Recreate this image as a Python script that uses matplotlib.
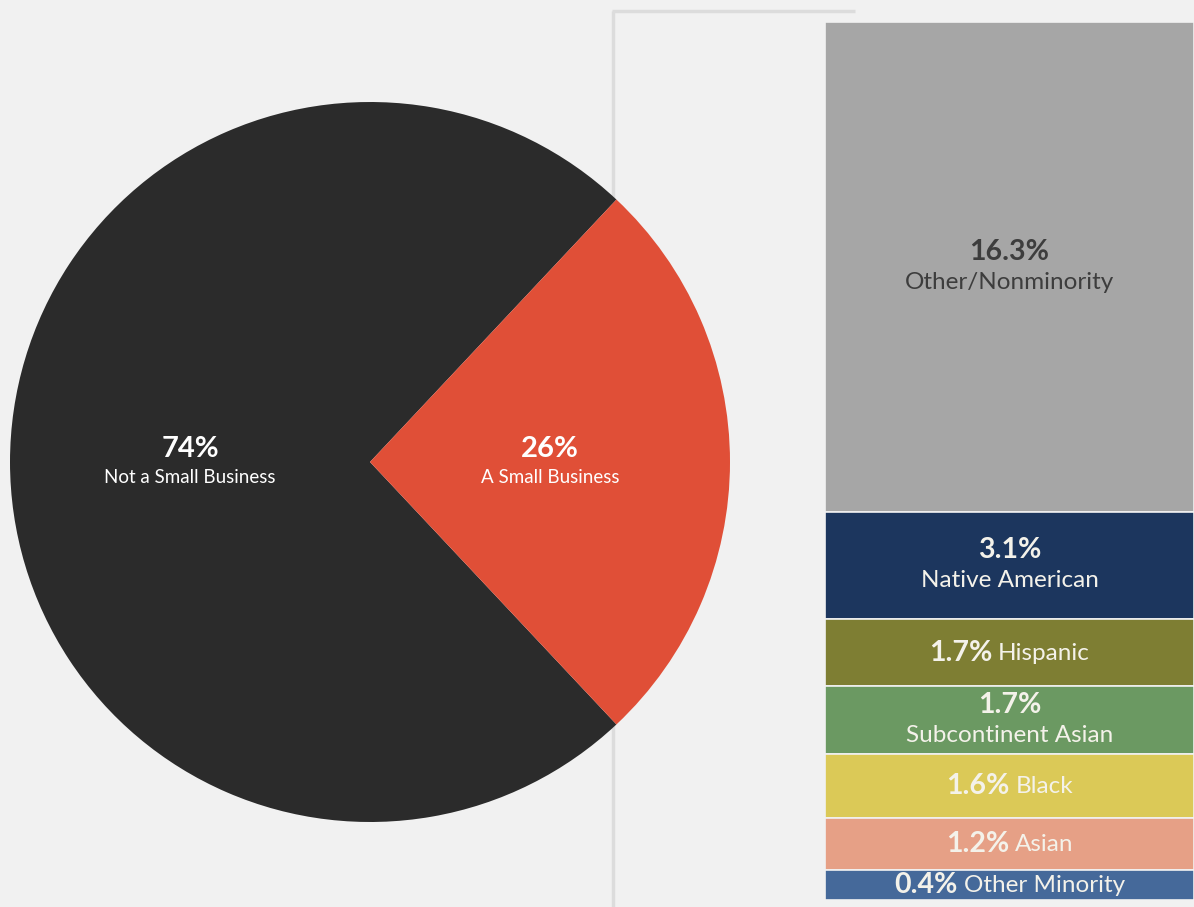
import numpy as np
import matplotlib.pyplot as plt
from matplotlib.lines import Line2D

plt.rcParams['font.family'] = ['Lato', 'DejaVu Sans']

# pie: share of contract dollars
pie_labels = ["Not a Small Business", "A Small Business"]
pie_values = [74, 26]
pie_colors = ["#2b2b2b", "#e04f37"]

# breakdown of the small business share
groups = ["Other/Nonminority", "Native American", "Hispanic",
          "Subcontinent Asian", "Black", "Asian", "Other Minority"]
shares = [16.3, 3.1, 1.7, 1.7, 1.6, 1.2, 0.4]
group_colors = ["#a6a6a6", "#1c365e", "#7e7e33", "#6b9962",
                "#dbc957", "#e6a086", "#45699a"]
two_line = [True, True, False, True, False, False, False]

bg = "#f1f1f1"
W, H = 1194, 907
fig = plt.figure(figsize=(W / 100, H / 100), dpi=100, facecolor=bg)

# thin bracket line behind the pie
guide = dict(color="#dcdcdc", lw=2.5, zorder=-1, solid_capstyle="butt")
fig.add_artist(Line2D([613 / W, 613 / W], [0, 1 - 11 / H], **guide))
fig.add_artist(Line2D([612 / W, 855 / W], [1 - 11 / H, 1 - 11 / H], **guide))

# ---- pie
ax = fig.add_axes([10 / W, (H - 822) / H, 720 / W, 720 / H])
wedges, _ = ax.pie(pie_values, colors=pie_colors, startangle=pie_values[1] / 100 * 180,
                   radius=1, wedgeprops=dict(linewidth=0))
ax.set_xlim(-1, 1)
ax.set_ylim(-1, 1)
ax.set_aspect("equal")
ax.axis("off")
for w, val, lab in zip(wedges, pie_values, pie_labels):
    ang = np.deg2rad((w.theta1 + w.theta2) / 2)
    x, y = 0.5 * np.cos(ang), 0.5 * np.sin(ang)
    ax.annotate(f"{val}%", (x, y), xytext=(0, 9.5), textcoords="offset points",
                ha="center", va="center", fontsize=21, fontweight="bold", color="white")
    ax.annotate(lab, (x, y), xytext=(0, -11.5), textcoords="offset points",
                ha="center", va="center", fontsize=13.5, color="white")

# ---- stacked bar (small groups given a floor so the labels fit)
shown = np.array(shares) + 0.62
bottoms = np.concatenate([[0], np.cumsum(shown)[:-1]])
bx = fig.add_axes([825 / W, (H - 900) / H, (W - 825) / W, 878 / H])
bx.bar(0.5, shown, bottom=bottoms, width=1, color=group_colors,
       edgecolor=bg, linewidth=1.2)
bx.set_xlim(0, 1)
bx.set_ylim(shown.sum(), 0)
bx.axis("off")

renderer = fig.canvas.get_renderer()
px = 72 / 100
for g, s, b, h, two, col in zip(groups, shares, bottoms, shown, two_line, group_colors):
    tc = "#3d3d3d" if col == "#a6a6a6" else "#f4f2ea"
    yc = b + h / 2
    if two:
        bx.annotate(f"{s}%", (0.5, yc), xytext=(0, 11), textcoords="offset points",
                    ha="center", va="center", fontsize=20.5, fontweight="bold", color=tc)
        bx.annotate(g, (0.5, yc), xytext=(0, -11), textcoords="offset points",
                    ha="center", va="center", fontsize=17.5, color=tc)
    else:
        t1 = bx.annotate(f"{s}%", (0.5, yc), xytext=(0, 0), textcoords="offset points",
                         ha="left", va="center", fontsize=20.5, fontweight="bold", color=tc)
        t2 = bx.annotate(g, (0.5, yc), xytext=(0, 0), textcoords="offset points",
                         ha="left", va="center", fontsize=17.5, color=tc)
        w1 = t1.get_window_extent(renderer).width
        w2 = t2.get_window_extent(renderer).width
        gap = 6
        start = -(w1 + gap + w2) / 2
        t1.set_position((start * px, 0))
        t2.set_position(((start + w1 + gap) * px, -0.5))

fig.savefig("out.png", dpi=100, facecolor=bg)
